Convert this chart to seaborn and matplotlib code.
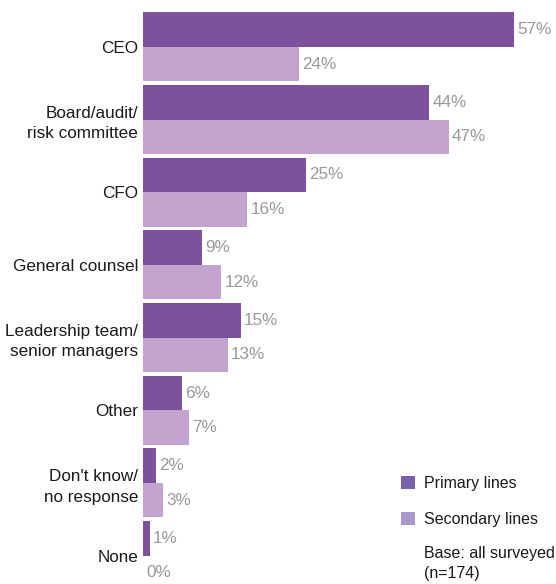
import matplotlib
matplotlib.use("Agg")
import matplotlib.pyplot as plt
import seaborn as sns
import pandas as pd
from matplotlib.patches import Patch

categories = ["CEO", "Board/audit/\nrisk committee", "CFO", "General counsel",
              "Leadership team/\nsenior managers", "Other",
              "Don't know/\nno response", "None"]
primary = [57, 44, 25, 9, 15, 6, 2, 1]
secondary = [24, 47, 16, 12, 13, 7, 3, 0]
series_names = ["Primary lines", "Secondary lines"]

bar_colors = ["#7E519E", "#C2A4CE"]
legend_colors = ["#7A62AA", "#A898CB"]

df = pd.DataFrame({
    "category": categories * 2,
    "value": primary + secondary,
    "series": [series_names[0]] * len(categories) + [series_names[1]] * len(categories),
})

sns.set_style("white")
plt.rcParams["font.family"] = ["Liberation Sans", "DejaVu Sans"]

fig = plt.figure(figsize=(5.56, 5.84), dpi=100)
W, H = 556, 584
top_px, bot_px = 10.5, 592.0
ax = fig.add_axes([143 / W, (H - bot_px) / H, 1 - 143 / W, (bot_px - top_px) / H])

sns.barplot(data=df, y="category", x="value", hue="series", orient="h",
            palette=bar_colors, saturation=1, width=0.95, linewidth=0,
            ax=ax, legend=False)

ax.set_xlim(0, (W - 143) / 6.5)
ax.set_ylim(7.5, -0.5)
for spine in ax.spines.values():
    spine.set_visible(False)
ax.set_xticks([])
ax.set_xlabel("")
ax.set_ylabel("")
ax.tick_params(axis="y", length=0, pad=3.5, labelsize=12.3, labelcolor="#1a1a1a")
for lbl in ax.get_yticklabels():
    lbl.set_multialignment("right")
    lbl.set_linespacing(1.45)

for cont in ax.containers:
    ax.bar_label(cont, fmt="%d%%", padding=2.5, color="#999999", fontsize=12.3)

handles = [Patch(facecolor=c, edgecolor="none") for c in legend_colors]
fig.legend(handles, series_names, loc="upper left",
           bbox_to_anchor=(401 / W, 1 - 476 / H), frameon=False,
           borderpad=0, borderaxespad=0,
           fontsize=11.5, handlelength=0.85, handleheight=0.85,
           handletextpad=0.6, labelspacing=1.3, labelcolor="#1a1a1a")
fig.text(424 / W, 1 - 546 / H, "Base: all surveyed\n(n=174)", fontsize=11.5,
         color="#1a1a1a", va="top", ha="left", linespacing=1.45)

fig.savefig("out.png", dpi=100)
